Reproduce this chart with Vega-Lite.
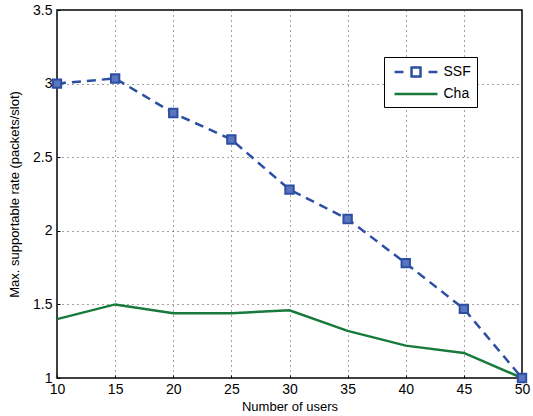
{
  "$schema": "https://vega.github.io/schema/vega-lite/v6.json",
  "width": 465,
  "height": 368,
  "autosize": "none",
  "padding": {"left": 57, "top": 10, "right": 11, "bottom": 38},
  "background": "white",
  "config": {
    "font": "Liberation Sans",
    "view": {"stroke": "black", "strokeWidth": 1.5},
    "axis": {
      "labelFont": "Liberation Sans",
      "titleFont": "Liberation Sans",
      "labelFontSize": 14,
      "titleFontSize": 13,
      "titleFontWeight": "normal",
      "labelColor": "black",
      "titleColor": "black",
      "domain": false,
      "tickColor": "black",
      "tickSize": -3,
      "tickWidth": 1,
      "gridColor": "#444",
      "gridDash": [1, 4],
      "gridWidth": 1
    }
  },
  "data": {
    "values": [
      {"users": 10, "rate": 3.0, "series": "SSF"},
      {"users": 15, "rate": 3.035, "series": "SSF"},
      {"users": 20, "rate": 2.8, "series": "SSF"},
      {"users": 25, "rate": 2.62, "series": "SSF"},
      {"users": 30, "rate": 2.28, "series": "SSF"},
      {"users": 35, "rate": 2.08, "series": "SSF"},
      {"users": 40, "rate": 1.78, "series": "SSF"},
      {"users": 45, "rate": 1.47, "series": "SSF"},
      {"users": 50, "rate": 1.0, "series": "SSF"},
      {"users": 10, "rate": 1.40, "series": "Cha"},
      {"users": 15, "rate": 1.50, "series": "Cha"},
      {"users": 20, "rate": 1.44, "series": "Cha"},
      {"users": 25, "rate": 1.44, "series": "Cha"},
      {"users": 30, "rate": 1.46, "series": "Cha"},
      {"users": 35, "rate": 1.32, "series": "Cha"},
      {"users": 40, "rate": 1.22, "series": "Cha"},
      {"users": 45, "rate": 1.17, "series": "Cha"},
      {"users": 50, "rate": 1.0, "series": "Cha"}
    ]
  },
  "encoding": {
    "x": {
      "field": "users", "type": "quantitative",
      "scale": {"domain": [10, 50], "nice": false, "zero": false},
      "axis": {"values": [10, 15, 20, 25, 30, 35, 40, 45, 50], "title": "Number of users", "labelPadding": 7, "titlePadding": 4, "labelFlush": false, "labelOverlap": false}
    },
    "y": {
      "field": "rate", "type": "quantitative",
      "scale": {"domain": [1, 3.5], "nice": false, "zero": false},
      "axis": {"values": [1, 1.5, 2, 2.5, 3, 3.5], "labelExpr": "format(datum.value, '~g')", "title": "Max. supportable rate (packets/slot)", "labelPadding": 8, "titlePadding": 11, "labelFlush": false, "labelOverlap": false}
    }
  },
  "layer": [
    {
      "transform": [{"filter": "datum.series === 'Cha'"}],
      "mark": {"type": "line", "strokeWidth": 2.5, "color": "#177a3a"}
    },
    {
      "transform": [{"filter": "datum.series === 'SSF'"}],
      "mark": {"type": "line", "strokeWidth": 2.5, "color": "#2c4ea3", "strokeDash": [9, 6]}
    },
    {
      "transform": [{"filter": "datum.series === 'SSF'"}],
      "mark": {"type": "square", "size": 70, "filled": true, "fill": "#5a74bd", "stroke": "#2c4ea3", "strokeWidth": 2, "opacity": 1}
    },
    {
      "transform": [{"filter": "false"}],
      "mark": {"type": "point", "filled": false, "opacity": 1},
      "encoding": {
        "stroke": {
          "field": "series", "type": "nominal",
          "scale": {"domain": ["SSF", "Cha"], "range": ["#2c4ea3", "#177a3a"]},
          "legend": {
            "orient": "none", "legendX": 327, "legendY": 47,
            "title": null, "labelFontSize": 14, "labelFont": "Liberation Sans", "labelColor": "black",
            "symbolSize": 256, "symbolStrokeWidth": 2.5, "symbolOpacity": 1, "symbolFillColor": "transparent",
            "strokeColor": "black", "padding": 5.5, "fillColor": "white", "rowPadding": 3, "labelOffset": 35
          }
        },
        "shape": {
          "field": "series", "type": "nominal",
          "scale": {"domain": ["SSF", "Cha"], "range": ["M-0.56,0H0.56M3.69,0H4.81M1.57,-0.56H2.69V0.56H1.57Z", "M-0.56,0H4.81"]},
          "legend": {
            "orient": "none", "legendX": 327, "legendY": 47,
            "title": null, "labelFontSize": 14, "labelFont": "Liberation Sans", "labelColor": "black",
            "symbolSize": 256, "symbolStrokeWidth": 2.5, "symbolOpacity": 1, "symbolFillColor": "transparent",
            "strokeColor": "black", "padding": 5.5, "fillColor": "white", "rowPadding": 3, "labelOffset": 35
          }
        }
      }
    }
  ]
}
